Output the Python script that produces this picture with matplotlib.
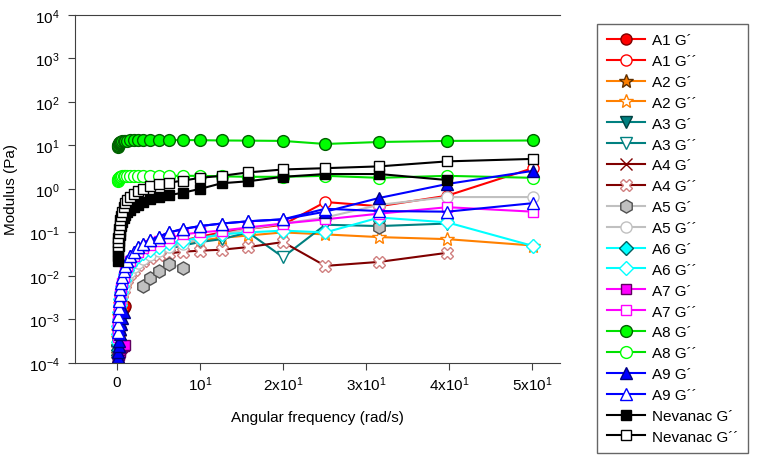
"""Recreate the modulus vs angular frequency chart"""

import numpy as np
import matplotlib
matplotlib.use('Agg')
import matplotlib.pyplot as plt
from matplotlib.ticker import FixedLocator, NullLocator

nan = np.nan

# angular frequency (rad/s)
freq = [0.1, 0.126, 0.158, 0.2, 0.251, 0.316, 0.398, 0.501, 0.631, 0.794,
        1.0, 1.26, 1.58, 2.0, 2.51, 3.16, 3.98, 5.01, 6.31, 7.94,
        10.0, 12.6, 15.8, 20.0, 25.1, 31.6, 39.8, 50.1]

a1_g1 = [1.0e-4, 1.5e-4, 2.2e-4, 3.2e-4, 4.5e-4, 6.5e-4, 9e-4, 1.2e-3, 1.5e-3, 1.8e-3,
         2.0e-3, nan, nan, nan, nan, nan, nan, nan, nan, nan,
         nan, nan, nan, nan, nan, nan, nan, nan]
a1_g2 = [3e-4, 4.5e-4, 6.5e-4, 9e-4, 1.3e-3, 1.8e-3, 2.5e-3, 3.4e-3, 4.6e-3, 6.2e-3,
         8.3e-3, 0.011, 0.015, 0.019, 0.024, 0.03, 0.037, 0.045, 0.055, 0.065,
         0.08, 0.1, 0.12, 0.15, 0.5, 0.4, 0.7, 3.0]
a2_g1 = [1.2e-4, 1.6e-4, 2.2e-4, 3e-4, 4e-4, nan, nan, nan, nan, nan,
         nan, nan, nan, nan, nan, nan, nan, nan, nan, nan,
         nan, nan, nan, nan, nan, nan, nan, nan]
a2_g2 = [2.5e-4, 3.8e-4, 5.5e-4, 8e-4, 1.2e-3, 1.6e-3, 2.3e-3, 3.1e-3, 4.2e-3, 5.7e-3,
         7.7e-3, 0.01, 0.013, 0.017, 0.022, 0.027, 0.033, 0.04, 0.048, 0.056,
         0.065, 0.075, 0.085, 0.1, 0.09, 0.078, 0.07, 0.05]
a3_g1 = [1.0e-4, 1.05e-4, 1.1e-4, nan, nan, nan, nan, nan, nan, nan,
         nan, nan, nan, nan, nan, nan, nan, nan, nan, nan,
         nan, nan, nan, nan, nan, nan, nan, nan]
a3_g2 = [2e-4, 3e-4, 4.5e-4, 6.5e-4, 9.5e-4, 1.4e-3, 2e-3, 2.8e-3, 3.9e-3, 5.3e-3,
         7.2e-3, 9.5e-3, 0.012, 0.016, 0.02, 0.025, 0.03, 0.036, 0.043, 0.05,
         0.06, 0.07, 0.1, 0.027, 0.15, 0.14, 0.16, nan]
a4_g1 = [1.3e-4, 2e-4, 3e-4, 4.2e-4, 6e-4, nan, nan, nan, nan, nan,
         nan, nan, nan, nan, nan, nan, nan, nan, nan, nan,
         nan, nan, nan, nan, nan, nan, nan, nan]
a4_g2 = [2e-4, 3e-4, 4.5e-4, 6.5e-4, 9.5e-4, 1.4e-3, 2e-3, 2.8e-3, 3.8e-3, 5e-3,
         6.5e-3, 8.5e-3, 0.011, 0.014, 0.018, 0.022, 0.026, 0.03, 0.033, 0.036,
         0.038, 0.04, 0.046, 0.06, 0.017, 0.021, 0.034, nan]
a5_g1 = [nan, nan, nan, nan, nan, nan, nan, nan, nan, nan,
         nan, nan, nan, nan, nan, 0.006, 0.009, 0.013, 0.019, 0.015,
         nan, nan, nan, nan, nan, 0.13, nan, nan]
a5_g2 = [2.5e-4, 3.6e-4, 5.2e-4, 7.5e-4, 1.1e-3, 1.5e-3, 2.1e-3, 2.9e-3, 4e-3, 5.4e-3,
         7.2e-3, 9.5e-3, 0.012, 0.016, 0.02, 0.025, 0.031, 0.038, 0.046, 0.055,
         0.07, 0.09, 0.12, 0.16, 0.22, 0.43, 0.65, 0.65]
a6_g1 = [1.5e-4, 2e-4, 2.6e-4, 3.4e-4, nan, nan, nan, nan, nan, nan,
         nan, nan, nan, nan, nan, nan, nan, nan, nan, nan,
         nan, nan, nan, nan, nan, nan, nan, nan]
a6_g2 = [3e-4, 4.5e-4, 7e-4, 1e-3, 1.5e-3, 2.1e-3, 3e-3, 4.2e-3, 5.8e-3, 8e-3,
         0.011, 0.014, 0.018, 0.023, 0.028, 0.034, 0.04, 0.047, 0.056, 0.065,
         0.075, 0.09, 0.1, 0.11, 0.1, 0.22, 0.17, 0.049]
a7_g1 = [1.1e-4, 1.2e-4, 1.3e-4, 1.5e-4, 1.6e-4, 1.8e-4, 2e-4, 2.2e-4, 2.3e-4, 2.5e-4,
         2.6e-4, nan, nan, nan, nan, nan, nan, nan, nan, nan,
         nan, nan, nan, nan, nan, nan, nan, nan]
a7_g2 = [4e-4, 6e-4, 9e-4, 1.3e-3, 1.9e-3, 2.7e-3, 3.8e-3, 5.2e-3, 7e-3, 9.5e-3,
         0.013, 0.017, 0.022, 0.028, 0.035, 0.043, 0.052, 0.062, 0.075, 0.09,
         0.1, 0.11, 0.13, 0.16, 0.2, 0.27, 0.38, 0.3]
a8_g1 = [9.0, 9.6, 10.2, 10.8, 11.2, 11.6, 12.0, 12.2, 12.4, 12.6,
         12.8, 12.9, 13.0, 13.1, 13.2, 13.3, 13.3, 13.3, 13.3, 13.3,
         13.2, 13.0, 12.9, 12.7, 10.8, 12.0, 12.7, 13.0]
a8_g2 = [1.5, 1.6, 1.7, 1.75, 1.8, 1.85, 1.9, 1.9, 1.95, 1.95,
         2.0, 2.0, 2.0, 2.0, 2.0, 2.0, 2.0, 2.0, 2.0, 2.0,
         2.0, 1.95, 1.9, 1.9, 2.0, 1.8, 2.0, 1.8]
a9_g1 = [1.1e-4, 1.4e-4, 1.8e-4, 2.4e-4, 3.2e-4, 4.5e-4, 6e-4, 8e-4, 1.1e-3, 1.5e-3,
         0.017, 0.022, 0.028, 0.036, 0.045, 0.055, 0.066, 0.08, 0.1, 0.12,
         0.14, 0.16, 0.18, 0.2, 0.3, 0.62, 1.3, 2.6]
a9_g2 = [5e-4, 8e-4, 1.2e-3, 1.8e-3, 2.6e-3, 3.6e-3, 5e-3, 7e-3, 9.5e-3, 0.013,
         0.017, 0.022, 0.028, 0.036, 0.045, 0.055, 0.066, 0.08, 0.1, 0.12,
         0.14, 0.16, 0.18, 0.2, 0.35, 0.31, 0.3, 0.47]
nev_g1 = [0.022, 0.028, 0.037, 0.05, 0.065, 0.085, 0.11, 0.14, 0.17, 0.21,
          0.25, 0.29, 0.33, 0.38, 0.43, 0.5, 0.58, 0.65, 0.72, 0.82,
          1.0, 1.35, 1.5, 1.9, 2.2, 2.2, 1.6, nan]
nev_g2 = [0.05, 0.06, 0.075, 0.095, 0.12, 0.15, 0.19, 0.24, 0.3, 0.38,
          0.47, 0.56, 0.65, 0.78, 0.9, 1.0, 1.15, 1.3, 1.4, 1.55,
          1.8, 2.0, 2.4, 2.8, 3.0, 3.3, 4.3, 4.9]

labels = ['A1 G\u00b4', 'A1 G\u00b4\u00b4', 'A2 G\u00b4', 'A2 G\u00b4\u00b4',
          'A3 G\u00b4', 'A3 G\u00b4\u00b4', 'A4 G\u00b4', 'A4 G\u00b4\u00b4',
          'A5 G\u00b4', 'A5 G\u00b4\u00b4', 'A6 G\u00b4', 'A6 G\u00b4\u00b4',
          'A7 G\u00b4', 'A7 G\u00b4\u00b4', 'A8 G\u00b4', 'A8 G\u00b4\u00b4',
          'A9 G\u00b4', 'A9 G\u00b4\u00b4', 'Nevanac G\u00b4', 'Nevanac G\u00b4\u00b4']
series = [a1_g1, a1_g2, a2_g1, a2_g2, a3_g1, a3_g2, a4_g1, a4_g2, a5_g1, a5_g2,
          a6_g1, a6_g2, a7_g1, a7_g2, a8_g1, a8_g2, a9_g1, a9_g2, nev_g1, nev_g2]

x_ticks = [0, 10, 20, 30, 40, 50]
x_ticklabels = ['0', '10$^{1}$', '2x10$^{1}$', '3x10$^{1}$', '4x10$^{1}$', '5x10$^{1}$']

# (line colour, marker, face colour, edge colour, marker size)
styles = [
    ('#ff0000', 'o', '#ff0000', '#800000', 8),
    ('#ff0000', 'o', 'white', '#ff0000', 8),
    ('#ff8000', '*', '#ff8000', '#603000', 10),
    ('#ff8000', '*', 'white', '#ff8000', 10),
    ('#008080', 'v', '#008080', '#004040', 8.5),
    ('#008080', 'v', 'white', '#008080', 8.5),
    ('#800000', 'x', '#800000', '#800000', 8),
    ('#800000', 'X', 'white', '#d08080', 9),
    ('#c0c0c0', 'h', '#c0c0c0', '#505050', 9.5),
    ('#c0c0c0', 'o', 'white', '#c0c0c0', 8),
    ('#00ffff', 'D', '#00ffff', '#006060', 7),
    ('#00ffff', 'D', 'white', '#00ffff', 7),
    ('#ff00ff', 's', '#ff00ff', '#600060', 7.5),
    ('#ff00ff', 's', 'white', '#ff00ff', 7.5),
    ('#00e000', 'o', '#00ff00', '#006000', 8.5),
    ('#00e000', 'o', 'white', '#00ff00', 8.5),
    ('#0000ff', '^', '#0000ff', '#000080', 8.5),
    ('#0000ff', '^', 'white', '#0000ff', 8.5),
    ('#000000', 's', '#000000', '#000000', 7.5),
    ('#000000', 's', 'white', '#000000', 7.5),
]

plt.rcParams['font.family'] = ['Liberation Sans', 'DejaVu Sans']
plt.rcParams['mathtext.default'] = 'regular'

fig = plt.figure(figsize=(7.58, 4.56), dpi=100)
ax = fig.add_axes([0.099, 0.202, 0.640, 0.763])

handles = []
for vals, lab, (lc, mk, fc, ec, ms) in zip(series, labels, styles):
    h, = ax.plot(freq, vals, color=lc, marker=mk, markerfacecolor=fc,
                 markeredgecolor=ec, markersize=ms, markeredgewidth=1.0,
                 linewidth=1.5, label=lab)
    handles.append(h)

ax.set_yscale('log')
ax.set_ylim(1e-4, 1e4)
ax.set_xlim(-5.06, 53.4)
ax.yaxis.set_minor_locator(NullLocator())
ax.xaxis.set_major_locator(FixedLocator(x_ticks))
ax.set_xticklabels(x_ticklabels)
ax.tick_params(direction='out', length=5, labelsize=11, color='#404040')
ax.tick_params(axis='y', pad=6)
ax.spines['right'].set_visible(False)
for s in ['left', 'bottom', 'top']:
    ax.spines[s].set_color('#404040')

ax.set_xlabel('Angular frequency (rad/s)', fontsize=11, labelpad=12)
ax.set_ylabel('Modulus (Pa)', fontsize=11)
ax.yaxis.set_label_coords(-0.118, 0.5)

leg = fig.legend(handles=handles, loc='upper left', bbox_to_anchor=(0.778, 0.962),
                 fontsize=11, frameon=True, fancybox=False, edgecolor='#404040',
                 labelspacing=0.45, handlelength=2.5, handletextpad=0.5,
                 borderpad=0.6)
leg.get_frame().set_linewidth(1.0)

fig.savefig('out.png', dpi=100)
